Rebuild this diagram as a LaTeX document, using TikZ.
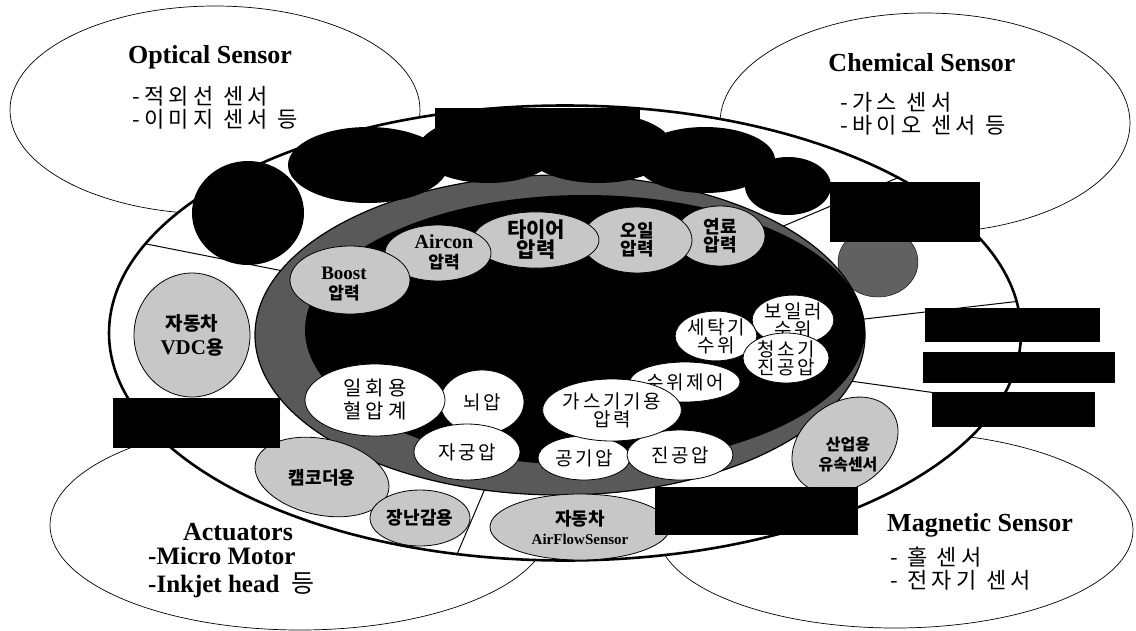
\documentclass[tikz,border=0pt]{standalone}
\usepackage{fontspec}
\setmainfont{Liberation Serif}
\newfontfamily\kr{Noto Sans CJK KR}
\newfontfamily\krw{Noto Sans CJK KR}[LetterSpace=20]
\newfontfamily\krm{Noto Sans CJK KR}[LetterSpace=14]
\usetikzlibrary{shapes.geometric}
\definecolor{lg}{gray}{0.78}
\definecolor{dg}{gray}{0.38}
\definecolor{band}{gray}{0.35}
\begin{document}
\begin{tikzpicture}[x=1pt,y=-1pt,
  sensor/.style={ellipse, draw, line width=0.7pt, fill=white, inner sep=0pt},
  ring/.style={ellipse, draw, line width=2.6pt, fill=white, inner sep=0pt},
  wl/.style={ellipse, draw, line width=0.8pt, fill=white, inner sep=0pt, align=center, font=\krm\fontsize{19}{18}\selectfont},
  gl/.style={ellipse, draw, line width=0.8pt, fill=lg, inner sep=0pt, align=center, font=\kr\bfseries\fontsize{18}{18}\selectfont},
  glt/.style={inner sep=0pt, align=center, font=\kr\bfseries\fontsize{18}{20}\selectfont},
  blob/.style={ellipse, fill=black, inner sep=0pt},
  redact/.style={rectangle, fill=black, inner sep=0pt},
  title/.style={font=\bfseries\fontsize{26}{28}\selectfont, inner sep=0pt},
  ktxt/.style={font=\krw\fontsize{22}{23}\selectfont, align=left, inner sep=0pt, anchor=north west},
  etxt/.style={font=\bfseries\fontsize{25}{28}\selectfont, align=left, inner sep=0pt, anchor=north west},
  divider/.style={line width=1pt}
]
\useasboundingbox (0,0) rectangle (1136,630);

% background sensor ellipses
\node[sensor, minimum width=410pt, minimum height=208pt] (opt) at (215,110) {};
\node[sensor, minimum width=410pt, minimum height=220pt] (chem) at (925,123) {};
\node[sensor, minimum width=500pt, minimum height=210pt] (act) at (300,525) {};
\node[sensor, minimum width=476pt, minimum height=196pt] (mag) at (895,530) {};

% main ring
\node[ring, minimum width=912pt, minimum height=455pt] (main) at (565,333) {};

% dividers
\node[ellipse, minimum width=610pt, minimum height=320pt, inner sep=0pt] (innerg) at (560,335) {};
\draw[divider] (main.168.4) -- (innerg.167.6);
\draw[divider] (main.244.9) -- (innerg.244.5);
\draw[divider] (main.4.2) -- (innerg.3.2);
\draw[divider] (main.-9.7) -- (innerg.-9.6);
\draw[divider] (main.25.8) -- (innerg.26);

% dark grey ellipse right
\node[ellipse, draw, fill=dg, minimum width=80pt, minimum height=70pt, inner sep=0pt] (dge) at (878,262) {};

% inner ellipse
\node[ellipse, draw, line width=1.2pt, fill=band, minimum width=610pt, minimum height=320pt, inner sep=0pt] (inner) at (560,335) {};
\node[ellipse, fill=black, minimum width=560pt, minimum height=270pt, inner sep=0pt] (core) at (585,330) {};

% black blobs in the top of the ring
\node[blob, minimum width=112pt, minimum height=104pt] (b1) at (248,213) {};
\node[blob, minimum width=160pt, minimum height=76pt] (b2) at (368,165) {};
\node[blob, minimum width=140pt, minimum height=66pt] (b3) at (488,150) {};
\node[blob, minimum width=150pt, minimum height=70pt] (b4) at (598,148) {};
\node[blob, minimum width=140pt, minimum height=66pt] (b5) at (705,160) {};
\node[blob, minimum width=86pt, minimum height=58pt] (b6) at (788,186) {};

% grey pressure ellipses (top of inner)
\node[gl, minimum width=90pt, minimum height=60pt] (fuel) at (720,236) {연료\\압력};
\node[gl, minimum width=110pt, minimum height=66pt] (oil) at (637,240) {오일\\압력};
\node[gl, minimum width=126pt, minimum height=54pt, font=\kr\bfseries\fontsize{21}{20}\selectfont] (tire) at (536,240) {타이어\\압력};
\node[gl, minimum width=106pt, minimum height=56pt] (aircon) at (438,253) {};
\node[gl, minimum width=120pt, minimum height=68pt] (boost) at (350,280) {};
\node[glt, font=\kr\bfseries\fontsize{17}{20}\selectfont] (aircont) at (444,252) {{\rmfamily\bfseries\fontsize{20}{20}\selectfont Aircon}\\압력};
\node[glt, font=\kr\bfseries\fontsize{17}{20}\selectfont] (boostt) at (344,284) {{\rmfamily\bfseries\fontsize{19}{20}\selectfont Boost}\\압력};

% white ellipses inside
\node[wl, minimum width=70pt, minimum height=44pt] (boiler) at (793,320) {보일러\\수위};
\node[wl, minimum width=72pt, minimum height=46pt] (washer) at (716,336) {세탁기\\수위};
\node[wl, minimum width=86pt, minimum height=50pt] (cleaner) at (786,358) {청소기\\진공압};
\node[wl, minimum width=100pt, minimum height=40pt] (level) at (685,382) {수위제어};
\node[wl, minimum width=92pt, minimum height=44pt] (air) at (584,458) {공기압};
\node[wl, minimum width=106pt, minimum height=50pt] (vac) at (680,455) {진공압};
\node[wl, minimum width=124pt, minimum height=62pt] (gas) at (612,410) {가스기기용\\압력};
\node[wl, minimum width=84pt, minimum height=64pt] (brain) at (482,402) {뇌압};
\node[wl, minimum width=106pt, minimum height=56pt] (uterus) at (467,452) {자궁압};
\node[wl, minimum width=140pt, minimum height=72pt, font=\krw\fontsize{20}{23}\selectfont] (bp) at (375,400) {일회용\\혈압계};

% grey ellipses in outer ring
\node[gl, minimum width=116pt, minimum height=124pt, font=\kr\bfseries\fontsize{19}{24}\selectfont] (vdc) at (192,335) {자동차\\{\rmfamily\bfseries\fontsize{21}{24}\selectfont VDC}용};
\node[gl, minimum width=136pt, minimum height=76pt, rotate=-12] (cam) at (322,477) {};
\node[glt] (camt) at (322,478) {캠코더용};
\node[gl, minimum width=100pt, minimum height=56pt] (toy) at (420,518) {장난감용};
\node[gl, minimum width=180pt, minimum height=66pt, font=\kr\bfseries\fontsize{18}{19}\selectfont] (airflow) at (580,527) {자동차\\{\rmfamily\bfseries\fontsize{15}{16}\selectfont AirFlowSensor}};
\node[gl, minimum width=115pt, minimum height=85pt, rotate=35] (ind) at (845,445) {};
\node[glt, font=\kr\bfseries\fontsize{16}{20}\selectfont] (indt) at (848,455) {산업용\\유속센서};

% redaction boxes
\node[redact, minimum width=205pt, minimum height=42pt] (r1) at (537.5,129) {};
\node[redact, minimum width=150pt, minimum height=60pt] (r2) at (905,212) {};
\node[redact, minimum width=175pt, minimum height=34pt] (r3) at (1012.5,325) {};
\node[redact, minimum width=192pt, minimum height=31pt] (r4) at (1019,367.5) {};
\node[redact, minimum width=163pt, minimum height=35pt] (r5) at (1013.5,409.5) {};
\node[redact, minimum width=167pt, minimum height=50pt] (r6) at (196.5,423) {};
\node[redact, minimum width=203pt, minimum height=48pt] (r7) at (756.5,511) {};

% sensor texts
\node[title] (optt) at (210,57) {Optical Sensor};
\node[ktxt] (optk) at (132,86) {-적외선 센서\\-이미지 센서 등};
\node[title] (chemt) at (922,63) {Chemical Sensor};
\node[ktxt] (chemk) at (840,92) {-가스 센서\\-바이오 센서 등};
\node[title] (actt) at (238,532) {Actuators};
\node[etxt] (actk) at (148,547) {-Micro Motor\\-Inkjet head \ {\kr\mdseries 등}};
\node[title] (magt) at (980,525) {Magnetic Sensor};
\node[ktxt] (magk) at (890,547) {- 홀 센서\\- 전자기 센서};
\end{tikzpicture}
\end{document}
